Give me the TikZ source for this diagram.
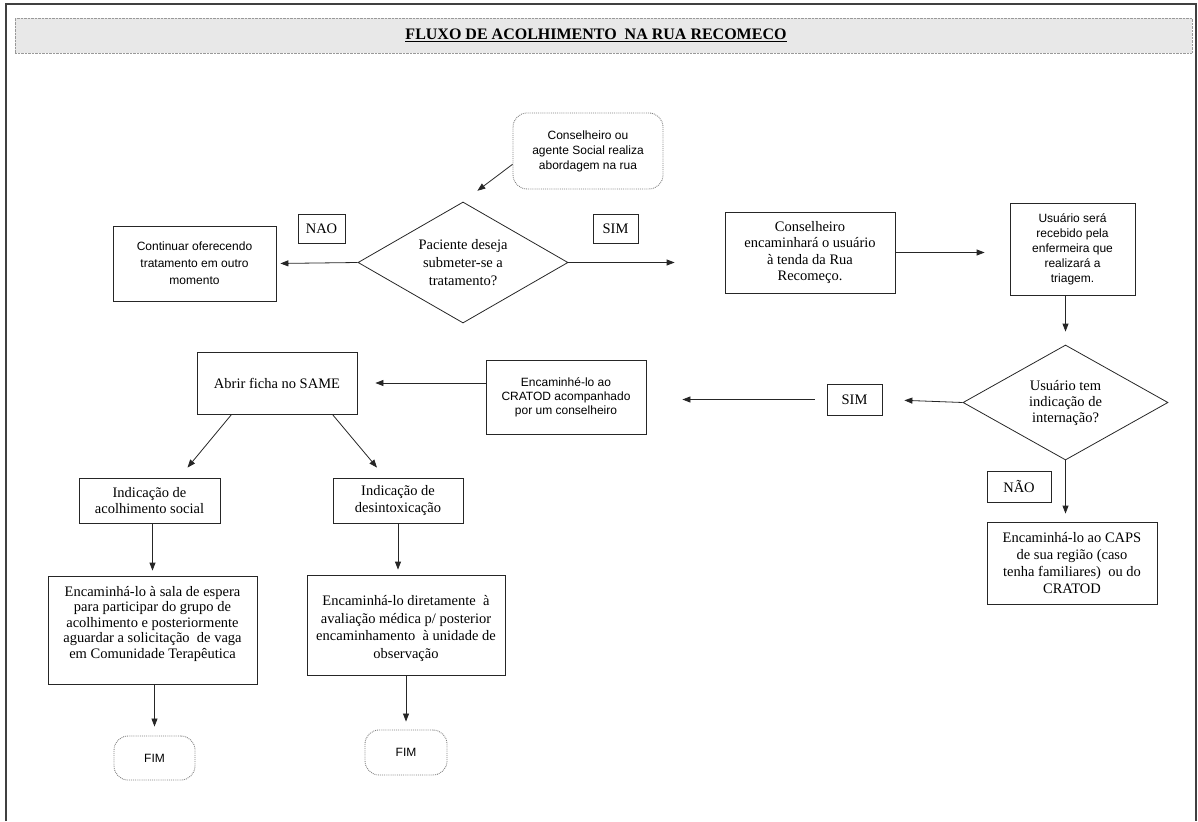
\documentclass[tikz,border=0pt]{standalone}
\usepackage{fontspec}
\setmainfont{Liberation Serif}
\newfontfamily\arialfont{Liberation Sans}
\usetikzlibrary{shapes.geometric,arrows.meta,calc}

\begin{document}
\begin{tikzpicture}[x=1pt, y=-1pt,
  box/.style = {draw=black!85, line width=0.8pt, align=center, inner sep=2pt, font=\fontsize{14.5}{16.5}\selectfont},
  sbox/.style = {box, font=\arialfont\fontsize{12}{15}\selectfont},
  term/.style = {draw=black!50, densely dotted, line width=0.9pt, rounded corners=14pt, align=center, font=\arialfont\fontsize{12}{15}\selectfont},
  decision/.style = {diamond, draw=black!85, line width=0.8pt, inner sep=0pt, aspect=1.75, align=center},
  arr/.style = {-{Triangle[length=8pt, width=6pt]}, line width=0.8pt, black!85}]
  \useasboundingbox (0,0) rectangle (1198,821);
  \draw[line width=1.5pt, black!75] (6,821) -- (6,4) -- (1196,4) -- (1196,821);

  \node[draw=black!40, densely dotted, fill=black!9, minimum width=1177, minimum height=35] (band) at (603.5,35.5) {};
  \node[font=\bfseries\fontsize{16}{18}\selectfont] (title) at (596,35) {\underline{FLUXO DE ACOLHIMENTO\ \ NA RUA RECOMECO}};

  \node[term, minimum width=150, minimum height=76] (start) at (588,151) {Conselheiro ou\\agente Social realiza\\abordagem na rua};
  \node[decision, minimum width=210, minimum height=121, font=\fontsize{14.5}{18}\selectfont] (q1) at (463,262.5) {Paciente deseja\\submeter-se a\\tratamento?};
  \node[box, minimum width=47, minimum height=29] (nao1) at (321.5,228.5) {NAO};
  \node[box, minimum width=45, minimum height=29] (sim1) at (615.5,228.5) {SIM};
  \node[sbox, font=\arialfont\fontsize{12}{17}\selectfont, minimum width=163, minimum height=75] (cont) at (194.5,263.5) {Continuar oferecendo\\tratamento em outro\\momento};
  \node[box, minimum width=170, minimum height=81] (cons) at (810,252.5) {Conselheiro\\encaminhará o usuário\\à tenda da Rua\\Recomeço.};
  \node[sbox, minimum width=125, minimum height=92] (usr) at (1072.5,249) {Usuário será\\recebido pela\\enfermeira que\\realizará a\\triagem.};
  \node[decision, minimum width=205, minimum height=115, font=\fontsize{14.5}{16}\selectfont] (q2) at (1065.5,402.5) {Usuário tem\\indicação de\\internação?};
  \node[box, minimum width=55, minimum height=31] (sim2) at (854.5,399.5) {SIM};
  \node[sbox, font=\arialfont\fontsize{12}{14}\selectfont, minimum width=160, minimum height=74] (enc) at (566,397) {Encaminhé-lo ao\\CRATOD acompanhado\\por um conselheiro};
  \node[box, minimum width=160, minimum height=62] (abrir) at (277,383) {Abrir ficha no SAME};
  \node[box, minimum width=141, minimum height=45] (ind1) at (149.5,500.5) {Indicação de\\acolhimento social};
  \node[box, minimum width=130, minimum height=45] (ind2) at (398,500.5) {Indicação de\\desintoxicação};
  \node[box, font=\fontsize{14.5}{15.5}\selectfont, minimum width=209, minimum height=108] (esp) at (152.5,630) {Encaminhá-lo à sala de espera\\para participar do grupo de\\acolhimento e posteriormente\\aguardar a solicitação\ \ de vaga\\em Comunidade Terapêutica\\\mbox{}};
  \node[box, font=\fontsize{14.5}{17.5}\selectfont, minimum width=198, minimum height=100] (dir) at (406,625) {\mbox{}\\Encaminhá-lo diretamente\ \ à\\avaliação médica p/ posterior\\encaminhamento\ \ à unidade de\\observação};
  \node[term, minimum width=81, minimum height=44] (fim1) at (154.5,758) {FIM};
  \node[term, minimum width=82, minimum height=45] (fim2) at (406,752.5) {FIM};
  \node[box, minimum width=64, minimum height=31] (nao2) at (1019,486.5) {NÃO};
  \node[box, font=\fontsize{14.5}{16.7}\selectfont, minimum width=170, minimum height=82] (caps) at (1072,563) {Encaminhá-lo ao CAPS\\de sua região (caso\\tenha familiares)\ \ ou do\\CRATOD};

  \draw[arr, shorten >=18pt] (start.190) -- (q1.north);
  \draw[arr, shorten >=4pt] (q1.west) -- (cont.east);
  \draw[arr, shorten >=50pt] (q1.east) -- (q1.east -| cons.west);
  \draw[arr, shorten >=25pt] (cons.east) -- (cons.east -| usr.west);
  \draw[arr, shorten >=13pt] (usr.south -| q2.north) -- (q2.north);
  \draw[arr, shorten >=22pt] (q2.west) -- (sim2.east);
  \draw[arr, shorten <=12pt, shorten >=36pt] (sim2.west) -- (sim2.west -| enc.east);
  \draw[arr, shorten >=18pt] (enc.west |- abrir.east) -- (abrir.east);
  \draw[arr] ($(abrir.south west)+(35,0)$) -- ($(ind1.north)+(38,-10)$);
  \draw[arr] ($(abrir.south east)+(-25,0)$) -- ($(ind2.north)+(-21,-10)$);
  \draw[arr, shorten >=5pt] (ind1.south -| esp.north) -- (esp.north);
  \draw[arr, shorten >=5pt] (ind2.south) -- (ind2.south |- dir.north);
  \draw[arr, shorten >=9pt] (esp.south -| fim1.north) -- (fim1.north);
  \draw[arr, shorten >=8pt] (dir.south) -- (fim2.north);
  \draw[arr, shorten >=8pt] (q2.south) -- (q2.south |- caps.north);
\end{tikzpicture}
\end{document}
